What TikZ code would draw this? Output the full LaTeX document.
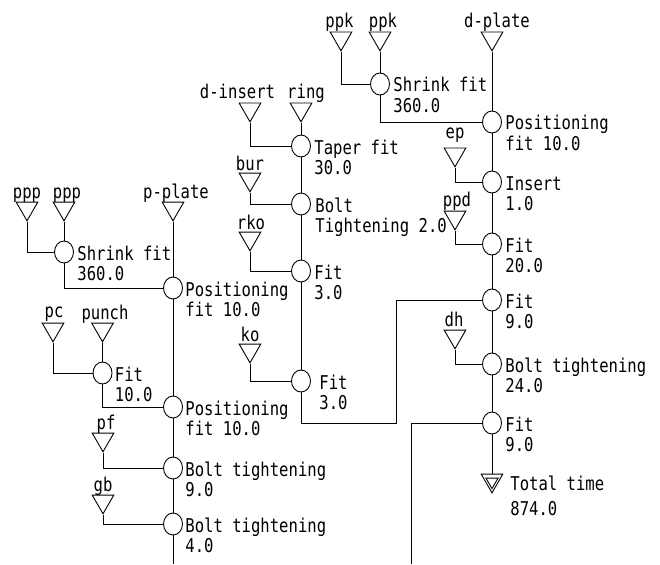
\documentclass[tikz,border=0pt]{standalone}
\usepackage{fontspec}
\usetikzlibrary{shapes.geometric}
\newfontfamily\labfont[FakeStretch=0.82]{DejaVu Sans Mono}
\tikzset{
  proc/.style={draw, ellipse, minimum width=19pt, minimum height=22pt, inner sep=0pt},
  part/.style={draw, regular polygon, regular polygon sides=3, shape border rotate=180, minimum size=25pt, inner sep=0pt},
  lab/.style={anchor=base west, inner sep=0pt, font=\labfont\fontsize{19}{21}\selectfont},
  tlab/.style={anchor=base, inner sep=0pt, font=\labfont\fontsize{19}{21}\selectfont},
}
% part triangle: name, x, top y, label, label centre x, label baseline y
\newcommand\partat[6]{\node[part] (#1) at (#2,#3+6.3) {}; \node[tlab] (#1-l) at (#5,#6) {#4};}
% process circle: name, x, y, label offset, line1, line2
\newcommand\procat[6]{\node[proc] (#1) at (#2,#3) {}; \node[lab] (#1-la) at (#2+#4,#3+8) {#5}; \node[lab] (#1-lb) at (#2+#4,#3+28.5) {#6};}
\begin{document}
\begin{tikzpicture}[x=1pt,y=-1pt,line width=0.9pt]
\useasboundingbox (0,0) rectangle (660,564);
% ---------- right column ----------
\partat{dplate}{492}{32}{d-plate}{497}{28}
\partat{ppkA}{341}{32}{ppk}{339.5}{28}
\partat{ppkB}{380}{32}{ppk}{383}{28}
\procat{shrR}{380}{84}{13}{Shrink fit}{360.0}
\procat{posR}{492}{122}{13}{Positioning}{fit 10.0}
\partat{ep}{455}{148}{ep}{455}{139}
\procat{insR}{492}{182}{13}{Insert}{1.0}
\partat{ppd}{455}{211}{ppd}{457}{206}
\procat{fitTw}{492}{244}{13}{Fit}{20.0}
\procat{fitNa}{492}{300}{13}{Fit}{9.0}
\partat{dh}{455}{330}{dh}{454}{326}
\procat{boltTf}{492}{364}{13}{Bolt tightening}{24.0}
\procat{fitNb}{492}{423}{13}{Fit}{9.0}
\node[part] (total) at (492,480.3) {};
\node[draw, regular polygon, regular polygon sides=3, shape border rotate=180, minimum size=14pt, inner sep=0pt] (total-in) at (492,481.6) {};
\node[lab] (total-la) at (510,490) {Total time};
\node[lab] (total-lb) at (510,515) {874.0};
% ---------- middle column ----------
\partat{ring}{301}{103}{ring}{306}{99}
\partat{dins}{250}{103}{d-insert}{237.5}{99}
\procat{taper}{301}{146}{13}{Taper fit}{30.0}
\partat{bur}{250}{173}{bur}{250}{170}
\procat{boltT}{301}{204}{14}{Bolt}{Tightening 2.0}
\partat{rko}{250}{232}{rko}{251}{229}
\procat{fitTa}{301}{271}{13}{Fit}{3.0}
\partat{ko}{250}{344}{ko}{250}{341}
\procat{fitTb}{301}{381}{18}{Fit}{3.0}
% ---------- left column ----------
\partat{pppA}{27}{202}{ppp}{27}{198}
\partat{pppB}{64}{202}{ppp}{67}{198}
\partat{pplate}{173}{202}{p-plate}{176}{198}
\procat{shrL}{64}{252}{13}{Shrink fit}{360.0}
\procat{posLa}{173}{288}{12}{Positioning}{fit 10.0}
\partat{pc}{53}{323}{pc}{54}{317}
\partat{punch}{102.5}{323}{punch}{105}{319}
\procat{fitL}{102.5}{373}{12}{Fit}{10.0}
\procat{posLb}{173}{407}{12}{Positioning}{fit 10.0}
\partat{pf}{103}{433}{pf}{106}{429}
\procat{boltLn}{173}{468}{12}{Bolt tightening}{9.0}
\partat{gb}{103}{495}{gb}{103}{491}
\procat{boltLf}{173}{524}{12}{Bolt tightening}{4.0}
% free ends and bends
\coordinate (bendA) at (396,423);
\coordinate (endR) at (411,564);
\coordinate (endL) at (173,564);
% ---------- connectors ----------
\draw (dplate.south) -- (posR.north);
\draw (ppkA.south) |- (shrR.west);
\draw (ppkB.south) -- (shrR.north);
\draw (shrR.south) |- (posR.west);
\draw (posR.south) -- (insR.north);
\draw (ep.south) |- (insR.west);
\draw (insR.south) -- (fitTw.north);
\draw (ppd.south) |- (fitTw.west);
\draw (fitTw.south) -- (fitNa.north);
\draw (fitNa.south) -- (boltTf.north);
\draw (dh.south) |- (boltTf.west);
\draw (boltTf.south) -- (fitNb.north);
\draw (fitNb.south) -- (total.north);
\draw (fitTb.south) |- (bendA) |- (fitNa.west);
\draw (fitNb.west) -| (endR);
\draw (ring.south) -- (taper.north);
\draw (dins.south) |- (taper.west);
\draw (taper.south) -- (boltT.north);
\draw (bur.south) |- (boltT.west);
\draw (boltT.south) -- (fitTa.north);
\draw (rko.south) |- (fitTa.west);
\draw (fitTa.south) -- (fitTb.north);
\draw (ko.south) |- (fitTb.west);
\draw (pppA.south) |- (shrL.west);
\draw (pppB.south) -- (shrL.north);
\draw (shrL.south) |- (posLa.west);
\draw (pplate.south) -- (posLa.north);
\draw (posLa.south) -- (posLb.north);
\draw (pc.south) |- (fitL.west);
\draw (punch.south) -- (fitL.north);
\draw (fitL.south) |- (posLb.west);
\draw (posLb.south) -- (boltLn.north);
\draw (pf.south) |- (boltLn.west);
\draw (boltLn.south) -- (boltLf.north);
\draw (gb.south) |- (boltLf.west);
\draw (boltLf.south) -- (endL);
\end{tikzpicture}
\end{document}
